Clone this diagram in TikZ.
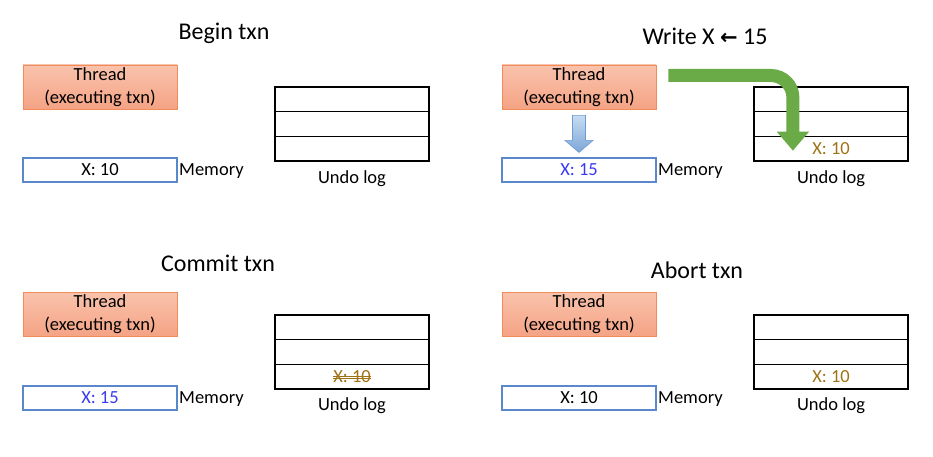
\documentclass[tikz,border=0pt]{standalone}
\usepackage{fontspec}
\setmainfont{Carlito}
\newfontfamily\arrowfont{DejaVu Sans}
\usetikzlibrary{arrows.meta,calc}
\definecolor{thrtop}{HTML}{F9C3AD}
\definecolor{thrbot}{HTML}{F5A384}
\definecolor{thrline}{HTML}{F28B5A}
\definecolor{memline}{HTML}{5B87CC}
\definecolor{valblue}{HTML}{3A3AF0}
\definecolor{gold}{HTML}{9E7318}
\definecolor{garrow}{HTML}{6AAB47}
\definecolor{barrtop}{HTML}{C6DCF1}
\definecolor{barrbot}{HTML}{7DA6D8}
\definecolor{barrline}{HTML}{6C9AD2}
\begin{document}
\begin{tikzpicture}[x=1pt,y=-1pt,
  thread/.style={rectangle, draw=thrline, line width=0.9pt, top color=thrtop, bottom color=thrbot,
    minimum width=154pt, minimum height=44pt, inner sep=0pt, align=center,
    font=\fontsize{18.5}{23}\selectfont},
  mem/.style={rectangle, draw=memline, line width=1.1pt, fill=white,
    minimum width=154pt, minimum height=24pt, inner sep=0pt, font=\fontsize{18.5}{22}\selectfont},
  logrow/.style={rectangle, draw=black, line width=1.2pt,
    minimum width=154pt, minimum height=24.7pt, inner sep=0pt, font=\fontsize{18.5}{22}\selectfont},
  lbl/.style={inner sep=0pt, font=\fontsize{18.5}{22}\selectfont},
  title/.style={inner sep=0pt, font=\fontsize{24}{28}\selectfont},
  strike/.style={draw=gold, line width=0.7pt}
]
\useasboundingbox (0,0) rectangle (933,457);

% ---------- Panel 1: Begin txn ----------
\node[title] (t1) at (224,33) {Begin txn};
\node[thread] (th1) at (100,87) {Thread\\(executing txn)};
\node[mem] (m1) at (100,170) {X: 10};
\node[lbl, anchor=west] (ml1) at (179,171) {Memory};
\node[logrow] (u1a) at (352,99.35) {};
\node[logrow] (u1b) at (352,124) {};
\node[logrow] (u1c) at (352,148.65) {};
\node[lbl] (ul1) at (352,179) {Undo log};

% ---------- Panel 2: Write X <- 15 ----------
\node[title] (t2) at (705,36) {Write X {\arrowfont\bfseries\fontsize{21}{24}\selectfont ←} 15};
\node[thread] (th2) at (579,87) {Thread\\(executing txn)};
\node[mem, text=valblue] (m2) at (579,170) {X: 15};
\node[lbl, anchor=west] (ml2) at (658,171) {Memory};
\node[logrow] (u2a) at (831,99.35) {};
\node[logrow] (u2b) at (831,124) {};
\node[logrow, text=gold] (u2c) at (831,148.65) {X: 10};
\node[lbl] (ul2) at (831,179) {Undo log};
% blue block arrow from thread to memory
\shade[top color=barrtop, bottom color=barrbot, draw=barrline, line width=0.6pt]
  ($(th2.south)+(-6.5,6)$) -- ($(th2.south)+(6.5,6)$) -- ($(th2.south)+(6.5,31)$)
  -- ($(th2.south)+(14,31)$) -- ($(m2.north)+(0,-5)$) -- ($(th2.south)+(-14,31)$)
  -- ($(th2.south)+(-6.5,31)$) -- cycle;
% green curved arrow from thread to undo log
\coordinate (gs) at ($(th2.east)+(12,-11.5)$);
\coordinate (ge) at ($(u2c.north west)+(39.5,15)$);
\draw[garrow, line width=13pt, rounded corners=22pt,
      -{Triangle[width=31pt,length=19pt]}] (gs) -| (ge);

% ---------- Panel 3: Commit txn ----------
\node[title] (t3) at (218,263) {Commit txn};
\node[thread] (th3) at (100,314) {Thread\\(executing txn)};
\node[mem, text=valblue] (m3) at (100,398) {X: 15};
\node[lbl, anchor=west] (ml3) at (179,399) {Memory};
\node[logrow] (u3a) at (352,327.35) {};
\node[logrow] (u3b) at (352,352) {};
\node[logrow, text=gold] (u3c) at (352,376.65) {X: 10};
\node[lbl] (ul3) at (352,406) {Undo log};
\node[inner sep=0pt, font=\fontsize{18.5}{22}\selectfont, opacity=0] (s3) at (u3c.center) {X: 10};
\draw[strike] ($(s3.west)+(0,-0.6)$) -- ($(s3.east)+(0,-0.6)$);
\draw[strike] ($(s3.west)+(0,1.3)$) -- ($(s3.east)+(0,1.3)$);

% ---------- Panel 4: Abort txn ----------
\node[title] (t4) at (697,270) {Abort txn};
\node[thread] (th4) at (579,314) {Thread\\(executing txn)};
\node[mem] (m4) at (579,398) {X: 10};
\node[lbl, anchor=west] (ml4) at (658,399) {Memory};
\node[logrow] (u4a) at (831,327.35) {};
\node[logrow] (u4b) at (831,352) {};
\node[logrow, text=gold] (u4c) at (831,376.65) {X: 10};
\node[lbl] (ul4) at (831,406) {Undo log};
\end{tikzpicture}
\end{document}
